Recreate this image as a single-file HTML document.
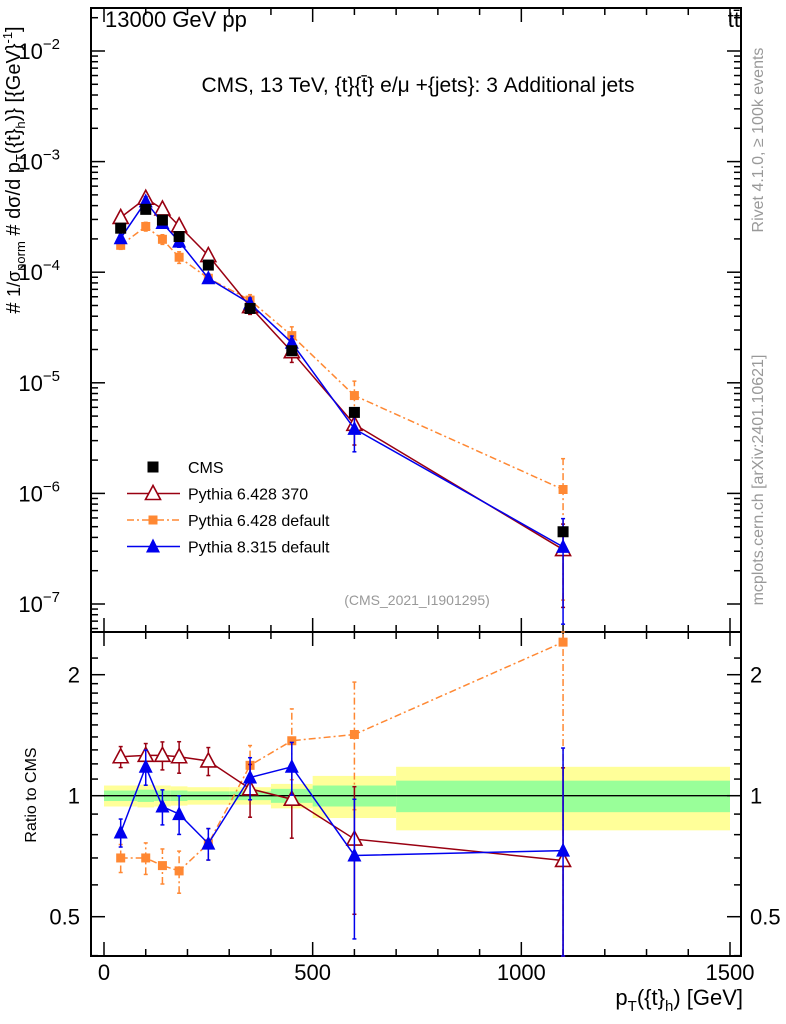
<!DOCTYPE html>
<html><head><meta charset="utf-8"><style>
body{margin:0;background:#fff}
svg{display:block;font-family:"Liberation Sans",sans-serif}
</style></head><body>
<svg id="c" width="786" height="1024" xmlns="http://www.w3.org/2000/svg"></svg>
<script>
const xCenters=[40,100,140,180,250,350,450,600,1100];
const cmsVals=[2.5e-4,3.7e-4,2.96e-4,2.1e-4,1.16e-4,4.7e-5,1.95e-5,5.4e-6,4.5e-7];
const p6aRatio=[1.25,1.26,1.26,1.25,1.22,1.04,0.98,0.78,0.69];
const p6aErr=[0.06,0.07,0.08,0.09,0.08,0.15,0.2,0.35,0.7];
const p6dRatio=[0.70,0.70,0.67,0.65,0.76,1.19,1.37,1.42,2.41];
const p6dErr=[0.08,0.09,0.1,0.12,0.09,0.12,0.2,0.35,0.9];
const p8Ratio=[0.81,1.18,0.94,0.90,0.76,1.11,1.18,0.71,0.73];
const p8Err=[0.08,0.1,0.1,0.11,0.09,0.12,0.15,0.38,0.8];
const binEdges=[0,80,120,160,200,300,400,500,700,1500];
const bandGreen=[0.03,0.035,0.03,0.03,0.025,0.025,0.04,0.06,0.09];
const bandYellow=[0.06,0.065,0.06,0.055,0.05,0.05,0.07,0.12,0.18];
const xTicks=[0,500,1000,1500];
const yMainTicks=[-2,-3,-4,-5,-6,-7];
const ratioTicks=[2,1,0.5];

const svg=document.getElementById('c');
const NS='http://www.w3.org/2000/svg';
function mk(t,a,p){const e=document.createElementNS(NS,t);for(const k in a)e.setAttribute(k,a[k]);(p||svg).appendChild(e);return e;}
const X=v=>104+v*(626/1500);
const Ym=v=>51-(Math.log10(v)+2)*110.6;
const Yr=r=>795.7-121*Math.log2(r);
const L=91,R=741,T=8,MB=632,RB=956;

for(let i=0;i<binEdges.length-1;i++){
  const x0=X(binEdges[i]),x1=X(binEdges[i+1]);
  let e=mk('rect',{x:x0,y:Yr(1+bandYellow[i]),width:x1-x0,height:Yr(1-bandYellow[i])-Yr(1+bandYellow[i]),fill:'#ffff99'});
  
  
  e=mk('rect',{x:x0,y:Yr(1+bandGreen[i]),width:x1-x0,height:Yr(1-bandGreen[i])-Yr(1+bandGreen[i]),fill:'#99ff99'});
  
  
}
mk('line',{x1:X(0),x2:X(1500),y1:Yr(1),y2:Yr(1),stroke:'#000','stroke-width':1.3});

for(const [y0,y1] of [[T,MB],[MB,RB]]){
  const f=mk('rect',{x:L,y:y0,width:R-L,height:y1-y0,fill:'none',stroke:'#000','stroke-width':2});
  
  
}
for(let v=0;v<=1500;v+=100){
  const maj=v%500===0,len=maj?14:7;
  for(const [yb,yt] of [[MB,T],[RB,MB]]){
    mk('line',{x1:X(v),x2:X(v),y1:yb,y2:yb-len,stroke:'#000','stroke-width':1.5});
    mk('line',{x1:X(v),x2:X(v),y1:yt,y2:yt+len,stroke:'#000','stroke-width':1.5});
  }
}
xTicks.forEach(v=>{const t=mk('text',{x:X(v),y:980,'font-size':22,'text-anchor':'middle'});t.textContent=v;
});
for(let d=-7;d<=-2;d++){
  for(let m=1;m<10;m++){
    const v=m*Math.pow(10,d),y=Ym(v);if(y<T||y>MB)continue;
    const len=m===1?14:7;
    mk('line',{x1:L,x2:L+len,y1:y,y2:y,stroke:'#000','stroke-width':1.5});
    mk('line',{x1:R,x2:R-len,y1:y,y2:y,stroke:'#000','stroke-width':1.5});
  }
}
for(let m=2;m<10;m++){const y=Ym(m*1e-8);if(y<MB){mk('line',{x1:L,x2:L+7,y1:y,y2:y,stroke:'#000','stroke-width':1.5});}}
yMainTicks.forEach(d=>{const t=mk('text',{x:60,y:Ym(Math.pow(10,d))+8,'font-size':22,'text-anchor':'end'});
t.innerHTML='10<tspan dy="-10" font-size="15">−'+(-d)+'</tspan>';
});
[0.4,0.5,0.6,0.7,0.8,0.9,1,1.1,1.2,1.3,1.4,1.5,1.6,1.7,1.8,1.9,2,2.2].forEach(r=>{
  const y=Yr(r);if(y<MB||y>RB)return;const len=(r===0.5||r===1||r===2)?14:7;
  mk('line',{x1:L,x2:L+len,y1:y,y2:y,stroke:'#000','stroke-width':1.5});
  mk('line',{x1:R,x2:R-len,y1:y,y2:y,stroke:'#000','stroke-width':1.5});
});
ratioTicks.forEach(r=>{for(const [x,a] of [[80,'end'],[750,'start']]){const t=mk('text',{x:x,y:Yr(r)+8,'font-size':22,'text-anchor':a});t.textContent=r;
}});

function marker(type,x,y,color,g){
  if(type==='sq')mk('rect',{x:x-5.5,y:y-5.5,width:11,height:11,fill:color},g);
  else if(type==='ssq')mk('rect',{x:x-4.5,y:y-4.5,width:9,height:9,fill:color},g);
  else if(type==='otri')mk('polygon',{points:`${x},${y-8} ${x-7.5},${y+6} ${x+7.5},${y+6}`,fill:'#fff',stroke:color,'stroke-width':1.6},g);
  else mk('polygon',{points:`${x},${y-8} ${x-7},${y+6} ${x+7},${y+6}`,fill:color},g);
}
function series(name,ratio,err,color,dash,type,main){
  const g=mk('g',{});
  const vals=ratio.map((r,i)=>main?r*cmsVals[i]:r);
  const Y=main?Ym:Yr;
  const pts=xCenters.map((x,i)=>X(x)+','+Y(vals[i])).join(' ');
  mk('polyline',{points:pts,fill:'none',stroke:color,'stroke-width':1.5,'stroke-dasharray':dash},g);
  xCenters.forEach((x,i)=>{
    const lo=Math.max(vals[i]*(1-err[i]),main?1e-9:0.3);
    let y1=Math.min(Y(lo),main?MB:RB),y2=Math.max(Y(vals[i]*(1+err[i])),main?T:MB);
    mk('line',{x1:X(x),x2:X(x),y1:y1,y2:y2,stroke:color,'stroke-width':1.5,'stroke-dasharray':dash},g);
    mk('line',{x1:X(x)-2,x2:X(x)+2,y1:y1,y2:y1,stroke:color,'stroke-width':1.5},g);
    mk('line',{x1:X(x)-2,x2:X(x)+2,y1:y2,y2:y2,stroke:color,'stroke-width':1.5},g);
    marker(type,X(x),Y(vals[i]),color,g);
  });
}
for(const main of [true,false]){
  series(main?'pythia6-default-main':'pythia6-default-ratio',p6dRatio,p6dErr,'#ff8833','7,3,2,3','ssq',main);
  series(main?'pythia6-370-main':'pythia6-370-ratio',p6aRatio,p6aErr,'#990011','','otri',main);
  series(main?'pythia8-main':'pythia8-ratio',p8Ratio,p8Err,'#0000ee','','tri',main);
}
const cg=mk('g',{});
xCenters.forEach((x,i)=>marker('sq',X(x),Ym(cmsVals[i]),'#000',cg));

function txt(s,a,name){const t=mk('text',a);t.innerHTML=s;return t;}
txt('13000 GeV pp',{x:105,y:27,'font-size':22},'energy-label');
txt('tt̄',{x:740,y:27,'font-size':22,'text-anchor':'end'},'process-label');
txt('CMS, 13 TeV, {t}{t̄} e/μ +{jets}: 3 Additional jets',{x:418,y:92,'font-size':21,'text-anchor':'middle'},'plot-title');
txt('(CMS_2021_I1901295)',{x:417,y:605,'font-size':14,'text-anchor':'middle',fill:'#999'},'analysis-id');
txt('Rivet 4.1.0, ≥ 100k events',{x:763,y:140,'font-size':16,'text-anchor':'middle',fill:'#999',transform:'rotate(-90 763 140)'},'rivet-label');
txt('mcplots.cern.ch [arXiv:2401.10621]',{x:763,y:480,'font-size':16,'text-anchor':'middle',fill:'#999',transform:'rotate(-90 763 480)'},'mcplots-label');
txt('Ratio to CMS',{x:36,y:795,'font-size':16,'text-anchor':'middle',transform:'rotate(-90 36 795)'},'ratio-y-title');
txt('p<tspan dy="6" font-size="15">T</tspan><tspan dy="-6">({t}</tspan><tspan dy="6" font-size="15">h</tspan><tspan dy="-6">) [GeV]</tspan>',{x:743,y:1005,'font-size':22,'text-anchor':'end'},'x-axis-title');
txt('# <tspan font-size="18">1/σ</tspan><tspan font-size="13" dy="5">norm</tspan><tspan dy="-5"> # dσ/d p</tspan><tspan font-size="13" dy="5">T</tspan><tspan dy="-5">({t}</tspan><tspan font-size="13" dy="5">h</tspan><tspan dy="-5">)} [{GeV}</tspan><tspan dy="-8" font-size="13">-1</tspan><tspan dy="8">]</tspan>',{x:20,y:170,'font-size':20,'text-anchor':'middle',transform:'rotate(-90 20 170)'},'y-axis-title');

const lg=mk('g',{});
const leg=[['CMS','#000','','sq',false],['Pythia 6.428 370','#990011','','otri',true],['Pythia 6.428 default','#ff8833','7,3,2,3','ssq',true],['Pythia 8.315 default','#0000ee','','tri',true]];
leg.forEach((l,i)=>{const y=467+i*26.5;
  const e=mk('g',{},lg);
  if(l[4])mk('line',{x1:127,x2:180,y1:y,y2:y,stroke:l[1],'stroke-width':1.5,'stroke-dasharray':l[2]},e);
  marker(l[3],153,y,l[1],e);
  const t=mk('text',{x:188,y:y+6,'font-size':16},e);t.textContent=l[0];
});
</script>
</body></html>
